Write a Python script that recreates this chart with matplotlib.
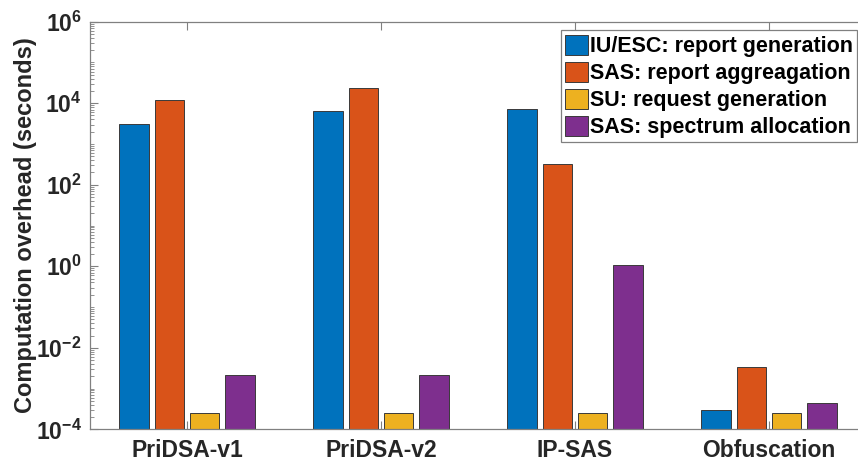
import numpy as np
import matplotlib
matplotlib.use('Agg')
import matplotlib.pyplot as plt
from matplotlib.ticker import LogLocator, NullFormatter

plt.rcParams['font.family'] = ['Liberation Sans', 'DejaVu Sans']
plt.rcParams['font.weight'] = 'bold'
plt.rcParams['mathtext.fontset'] = 'custom'
plt.rcParams['mathtext.rm'] = 'Liberation Sans:bold'
plt.rcParams['mathtext.bf'] = 'Liberation Sans:bold'
plt.rcParams['mathtext.default'] = 'rm'

# data (seconds)
schemes = ['PriDSA-v1', 'PriDSA-v2', 'IP-SAS', 'Obfuscation']
series = ['IU/ESC: report generation', 'SAS: report aggreagation',
          'SU: request generation', 'SAS: spectrum allocation']
report_gen = [3100, 6500, 7200, 2.95e-4]
report_agg = [12000, 24000, 320, 3.3e-3]
request_gen = [2.55e-4, 2.55e-4, 2.55e-4, 2.55e-4]
spectrum_alloc = [2.15e-3, 2.15e-3, 1.1, 4.5e-4]

ytick_vals = [1e-4, 1e-2, 1e0, 1e2, 1e4, 1e6]
ytick_labels = [r'$10^{-4}$', r'$10^{-2}$', r'$10^{0}$',
                r'$10^{2}$', r'$10^{4}$', r'$10^{6}$']

colors = ['#0072BD', '#D95319', '#EDB120', '#7E2F8E']

fig = plt.figure(figsize=(8.58, 4.68), dpi=100)
ax = fig.add_axes([90 / 858, 38.7 / 468, 776 / 858, 407.6 / 468])

x = np.arange(1, len(schemes) + 1)
pitch = 0.182
width = 0.15
all_vals = [report_gen, report_agg, request_gen, spectrum_alloc]
for k, vals in enumerate(all_vals):
    ax.bar(x + (k - 1.5) * pitch, vals, width, color=colors[k],
           edgecolor='#3a3a3a', linewidth=0.7, label=series[k], zorder=2)

ax.set_yscale('log')
ax.set_ylim(1e-4, 1e6)
ax.set_xlim(0.5, 4.5)

ax.set_yticks(ytick_vals)
ax.set_yticklabels(ytick_labels, fontsize=16.5)
ax.yaxis.set_minor_locator(LogLocator(base=10, subs=np.arange(1, 10), numticks=200))
ax.yaxis.set_minor_formatter(NullFormatter())

ax.set_xticks(x)
ax.set_xticklabels(schemes, fontsize=16.5, fontweight='bold', color='#262626')

ax.tick_params(axis='both', which='both', direction='in', top=True, right=True,
               colors='#808080', labelcolor='#262626')
ax.tick_params(axis='y', which='major', length=6, pad=6)
ax.tick_params(axis='y', which='minor', length=3)
ax.tick_params(axis='x', which='major', length=6, pad=7)

for s in ax.spines.values():
    s.set_color('#808080')
    s.set_linewidth(0.9)

ax.set_ylabel('Computation overhead (seconds)', fontsize=17, fontweight='bold',
              color='#262626', labelpad=-1)

leg = ax.legend(loc='upper right', bbox_to_anchor=(1.0, 1.0), fontsize=15.5,
                frameon=True, fancybox=False, edgecolor='#808080', framealpha=1,
                handlelength=1.05, handleheight=1.05, handletextpad=0.12,
                labelspacing=0.22, borderpad=0.2, borderaxespad=0.4)
leg.get_frame().set_linewidth(0.9)
for t in leg.get_texts():
    t.set_fontweight('bold')

fig.savefig('out.png', dpi=100)
